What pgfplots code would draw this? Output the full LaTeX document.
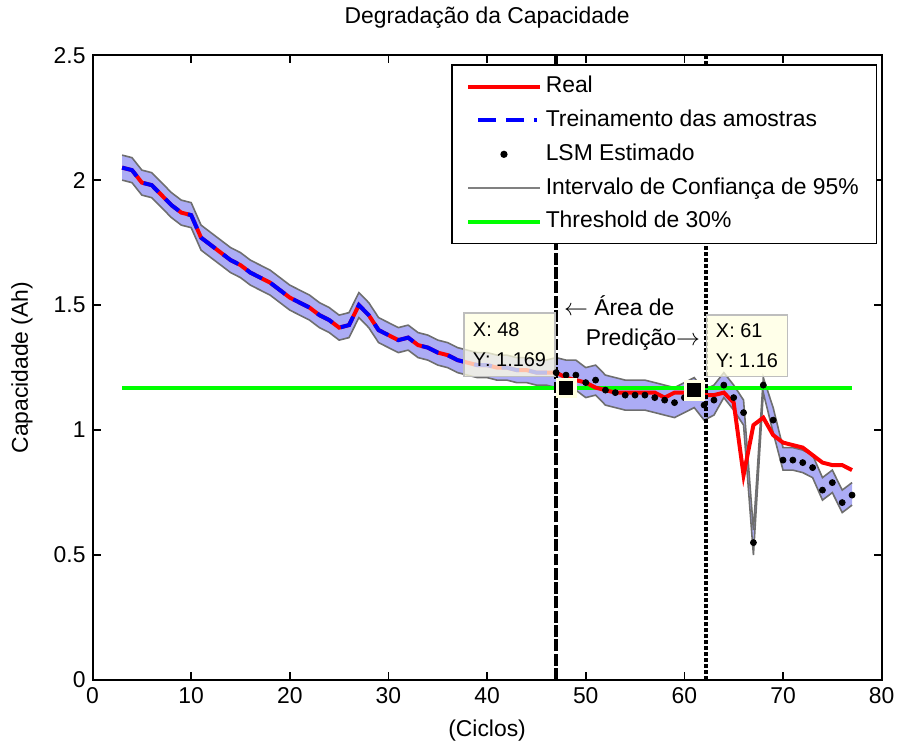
\documentclass[border=0pt]{standalone}
\usepackage{fontspec}
\setmainfont{Liberation Sans}
\usepackage{pgfplots}
\pgfplotsset{compat=1.18}
\usepackage{pgfplotstable}
\usepgfplotslibrary{fillbetween}
\definecolor{bandblue}{RGB}{172,172,245}
\definecolor{bandedge}{RGB}{110,110,110}
\definecolor{mgreen}{RGB}{0,255,0}
\definecolor{cream}{RGB}{255,255,225}
\definecolor{tipedge}{RGB}{190,190,190}

\pgfplotstableread{
x y
3 2.05
4 2.04
5 1.99
6 1.98
7 1.94
8 1.90
9 1.87
10 1.86
11 1.77
12 1.74
13 1.71
14 1.68
15 1.66
16 1.63
17 1.61
18 1.59
19 1.56
20 1.53
21 1.51
22 1.49
23 1.46
24 1.44
25 1.41
26 1.42
27 1.50
28 1.46
29 1.40
30 1.38
31 1.36
32 1.37
33 1.34
34 1.33
35 1.31
36 1.30
37 1.28
38 1.27
39 1.26
40 1.26
41 1.25
42 1.25
43 1.24
44 1.24
45 1.23
46 1.23
47 1.23
48 1.21
49 1.20
50 1.19
51 1.17
52 1.16
53 1.15
54 1.15
55 1.15
56 1.15
57 1.15
58 1.13
59 1.15
60 1.15
61 1.16
62 1.14
63 1.14
64 1.15
65 1.11
66 0.82
67 1.02
68 1.05
69 0.98
70 0.95
71 0.94
72 0.93
73 0.90
74 0.87
75 0.86
76 0.86
77 0.84
}\realdata

\pgfplotstableread{
x y
47 1.23
48 1.22
49 1.22
50 1.19
51 1.20
52 1.16
53 1.15
54 1.14
55 1.14
56 1.14
57 1.13
58 1.12
59 1.11
60 1.13
61 1.15
62 1.10
63 1.12
64 1.18
65 1.13
66 1.07
67 0.55
68 1.18
69 1.04
70 0.88
71 0.88
72 0.87
73 0.85
74 0.76
75 0.79
76 0.71
77 0.74
}\lsmdata

\pgfplotstableread{
x up lo
3 2.10 2.00
4 2.09 1.99
5 2.04 1.94
6 2.03 1.93
7 1.99 1.89
8 1.95 1.85
9 1.92 1.82
10 1.91 1.81
11 1.82 1.72
12 1.79 1.69
13 1.76 1.66
14 1.73 1.63
15 1.71 1.61
16 1.68 1.58
17 1.66 1.56
18 1.64 1.54
19 1.61 1.51
20 1.58 1.48
21 1.56 1.46
22 1.54 1.44
23 1.51 1.41
24 1.49 1.39
25 1.46 1.36
26 1.47 1.37
27 1.55 1.45
28 1.51 1.41
29 1.45 1.35
30 1.43 1.33
31 1.41 1.31
32 1.42 1.32
33 1.39 1.29
34 1.38 1.28
35 1.36 1.26
36 1.35 1.25
37 1.33 1.23
38 1.32 1.22
39 1.31 1.21
40 1.31 1.21
41 1.30 1.20
42 1.30 1.20
43 1.29 1.19
44 1.29 1.19
45 1.28 1.18
46 1.28 1.18
47 1.29 1.17
48 1.28 1.16
49 1.28 1.16
50 1.25 1.13
51 1.26 1.14
52 1.22 1.10
53 1.21 1.09
54 1.20 1.08
55 1.20 1.08
56 1.20 1.08
57 1.19 1.07
58 1.18 1.06
59 1.17 1.05
60 1.19 1.07
61 1.21 1.09
62 1.16 1.04
63 1.18 1.06
64 1.23 1.13
65 1.18 1.08
66 1.12 1.02
67 0.60 0.50
68 1.21 1.15
69 1.09 0.99
70 0.93 0.84
71 0.93 0.84
72 0.92 0.83
73 0.90 0.81
74 0.81 0.72
75 0.84 0.75
76 0.76 0.67
77 0.79 0.70
}\banddata

\begin{document}
\begin{tikzpicture}
\begin{axis}[
  scale only axis,
  width=396.5pt, height=314pt,
  xmin=0, xmax=80, ymin=0, ymax=2.5,
  xtick={0,10,...,80},
  ytick={0,0.5,1,1.5,2,2.5},
  tick align=inside,
  major tick length=4pt,
  axis line style={line width=1pt},
  every tick/.style={black, line width=0.8pt},
  /pgf/number format/assume math mode=true,
  tick label style={font=\fontsize{11.5}{13}\selectfont},
  title style={font=\fontsize{11.5}{13}\selectfont, at={(0.5,1.0414)}, anchor=center},
  title={Degradação da Capacidade},
  xlabel={(Ciclos)},
  ylabel={Capacidade (Ah)},
  every axis x label/.style={at={(axis description cs:0.5,-0.0812)}, anchor=center, font=\fontsize{11.5}{13}\selectfont},
  every axis y label/.style={at={(axis description cs:-0.0895,0.5)}, rotate=90, anchor=center, font=\fontsize{11.5}{13}\selectfont},
  legend style={at={(rel axis cs:0.9937,0.984)}, anchor=north east,
    draw=black, line width=0.8pt, fill=white, outer sep=0pt,
    font=\fontsize{11.5}{13}\selectfont,
    inner xsep=7pt, inner ysep=2.8pt, row sep=1pt,
    nodes={text height=9pt, text depth=3pt},
    /tikz/every even column/.append style={column sep=2pt}},
  legend cell align=left,
  legend image code/.code={\draw[#1] (0pt,0pt) -- (36pt,0pt);},
]
\addlegendimage{red, line width=2pt}
\addlegendentry{Real}
\addlegendimage{blue, line width=2pt, dash pattern=on 9pt off 5pt on 9pt off 5pt on 1.5pt off 20pt, dash phase=-5pt}
\addlegendentry{Treinamento das amostras}
\addlegendimage{legend image code/.code={\fill[black] (18pt,0pt) circle (1.4pt);}}
\addlegendentry{LSM Estimado}
\addlegendimage{gray, line width=0.8pt}
\addlegendentry{Intervalo de Confiança de 95\%}
\addlegendimage{mgreen, line width=2pt}
\addlegendentry{Threshold de 30\%}

% confidence band
\addplot[draw=none, name path=up, forget plot] table[x=x, y=up] {\banddata};
\addplot[draw=none, name path=lo, forget plot] table[x=x, y=lo] {\banddata};
\addplot[bandblue, forget plot] fill between[of=up and lo];
\addplot[bandedge, line width=0.8pt, forget plot] table[x=x, y=up] {\banddata};
\addplot[bandedge, line width=0.8pt, forget plot] table[x=x, y=lo] {\banddata};

% threshold
\addplot[mgreen, line width=2pt, forget plot] coordinates {(3,1.167) (77,1.167)};

% real
\addplot[red, line width=2pt, forget plot] table[x=x, y=y] {\realdata};
% training
\addplot[blue, line width=2pt, dash pattern=on 9pt off 5pt, forget plot, restrict x to domain=3:47] table[x=x, y=y] {\realdata};
% LSM
\addplot[only marks, mark=*, mark size=1.5pt, black, forget plot] table[x=x, y=y] {\lsmdata};

% prediction area limits
\addplot[black, line width=2.2pt, dash pattern=on 6pt off 1.2pt, forget plot] coordinates {(47,0) (47,2.5)};
\addplot[black, line width=2.4pt, dash pattern=on 2pt off 1pt, forget plot] coordinates {(62.2,0) (62.2,2.5)};

\node[font=\fontsize{11.5}{13}\selectfont, anchor=center] at (axis cs:53.4,1.498) {$\leftarrow$ Área de};
\node[font=\fontsize{11.5}{13}\selectfont, anchor=center] at (axis cs:55.8,1.363) {Predição$\rightarrow$};

% data tips
\node[anchor=south west, draw=tipedge, fill=cream, fill opacity=0.75, text opacity=1,
  minimum width=45.5pt, minimum height=32pt, inner xsep=4.5pt, inner ysep=2pt,
  align=left, font=\fontsize{10}{15}\selectfont, line width=0.6pt]
  at (axis cs:37.6,1.211) {X: 48\\Y: 1.169};
\node[anchor=south west, draw=tipedge, fill=cream, fill opacity=0.75, text opacity=1,
  minimum width=40.5pt, minimum height=31pt, inner xsep=2.5pt, inner ysep=2pt,
  align=left, font=\fontsize{10}{15}\selectfont, line width=0.6pt]
  at (axis cs:62.2,1.211) {X: 61\\Y: 1.16};
\addplot[only marks, mark=square*, mark size=5pt, mark options={draw=cream, fill=cream}, forget plot] coordinates {(48,1.169) (61,1.16)};
\addplot[only marks, mark=square*, mark size=3.3pt, mark options={draw=black, fill=black}, forget plot] coordinates {(48,1.169) (61,1.16)};
\end{axis}
\path (current axis.south west) ++(-46.5pt,-34.5pt) coordinate (bbsw);
\path (current axis.north east) ++(7.5pt,24pt) coordinate (bbne);
\path (bbsw) rectangle (bbne);
\end{tikzpicture}
\end{document}
